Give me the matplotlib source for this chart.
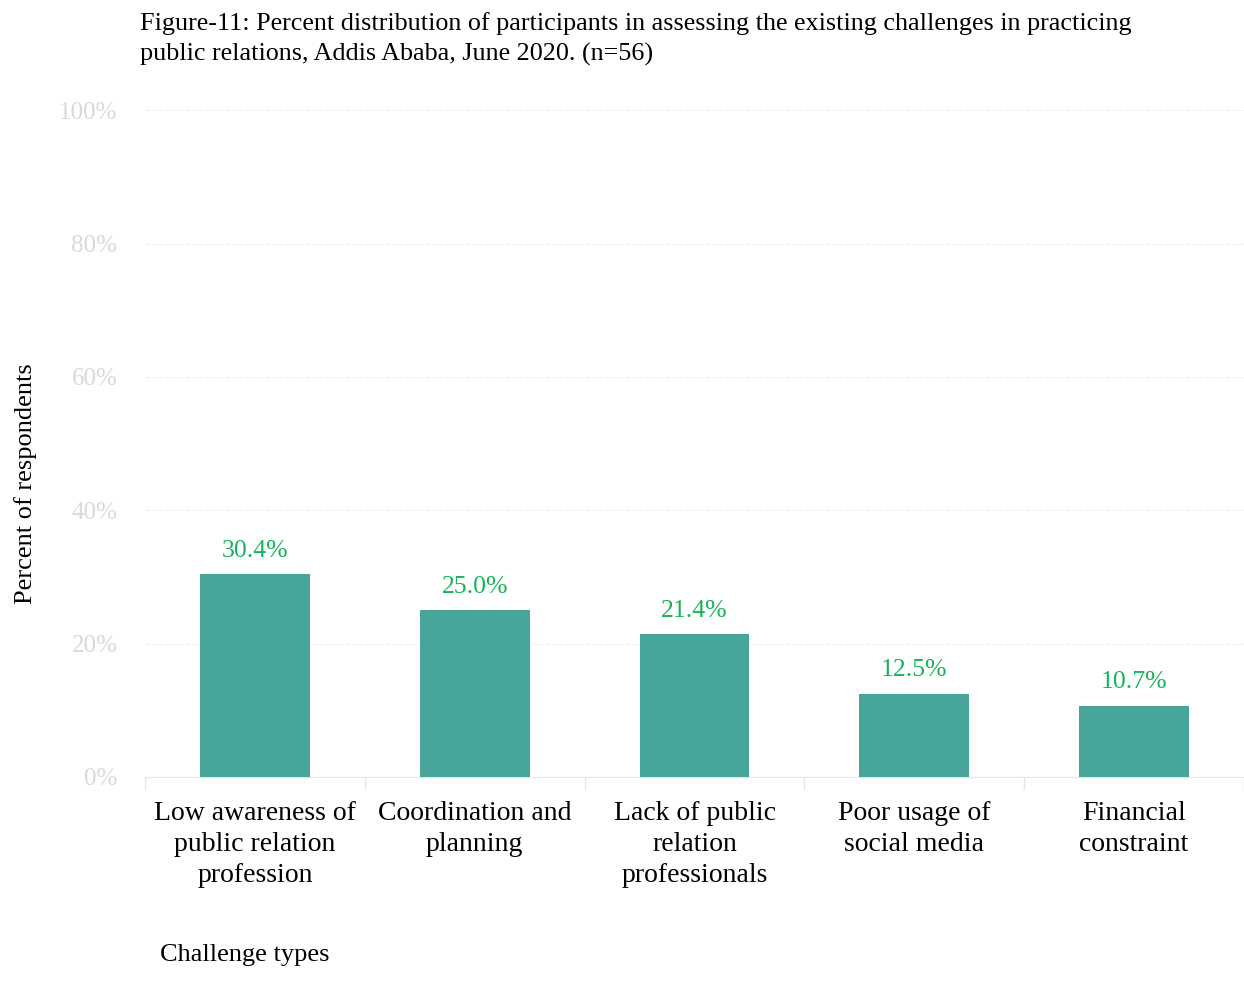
import matplotlib
matplotlib.use("Agg")
import matplotlib.pyplot as plt
import numpy as np

categories = [
    "Low awareness of\npublic relation\nprofession",
    "Coordination and\nplanning",
    "Lack of public\nrelation\nprofessionals",
    "Poor usage of\nsocial media",
    "Financial\nconstraint",
]
percents = [30.4, 25.0, 21.4, 12.5, 10.7]
y_ticks = [0, 20, 40, 60, 80, 100]

plt.rcParams.update({
    "font.family": ["Liberation Serif", "DejaVu Serif"],
})

fig = plt.figure(figsize=(12.44, 10.02), dpi=100)
ax = fig.add_axes([0.1166, 0.2246, 0.8834, 0.6654])

x = np.arange(len(categories))
ax.bar(x, percents, width=0.5, color="#48a59a", zorder=3)

for xi, p in zip(x, percents):
    ax.text(xi, p + 1.9, f"{p:.1f}%", ha="center", va="bottom",
            color="#17b35a", fontsize=18.5)

ax.set_xlim(-0.5, len(categories) - 0.5)
ax.set_ylim(0, 100)

ax.set_yticks(y_ticks)
ax.set_yticklabels([f"{t}%" for t in y_ticks], color="#d9d9d9", fontsize=18)
ax.tick_params(axis="y", length=0, pad=20)
ax.grid(axis="y", linestyle=(0, (4, 2)), color="#eeeeee", linewidth=0.8, zorder=0)

# category labels centred, boundary ticks between categories
ax.set_xticks(x)
ax.set_xticklabels(categories, fontsize=20, linespacing=1.34)
ax.tick_params(axis="x", which="major", length=0, pad=17)
ax.set_xticks(np.arange(-0.5, len(categories)), minor=True)
ax.tick_params(axis="x", which="minor", length=9, color="#e6e6e6", width=1)

for s in ["top", "right", "left"]:
    ax.spines[s].set_visible(False)
ax.spines["bottom"].set_color("#e6e6e6")

ax.set_ylabel("Percent of respondents", fontsize=19)
ax.yaxis.set_label_coords(-0.098, 0.44)

fig.text(0.1286, 0.047, "Challenge types", fontsize=19, ha="left", va="center")

fig.text(0.1125, 0.988,
         "Figure-11: Percent distribution of participants in assessing the existing challenges in practicing\n"
         "public relations, Addis Ababa, June 2020. (n=56)",
         fontsize=18.85, ha="left", va="top", linespacing=1.45)

fig.savefig("out.png", dpi=100)
